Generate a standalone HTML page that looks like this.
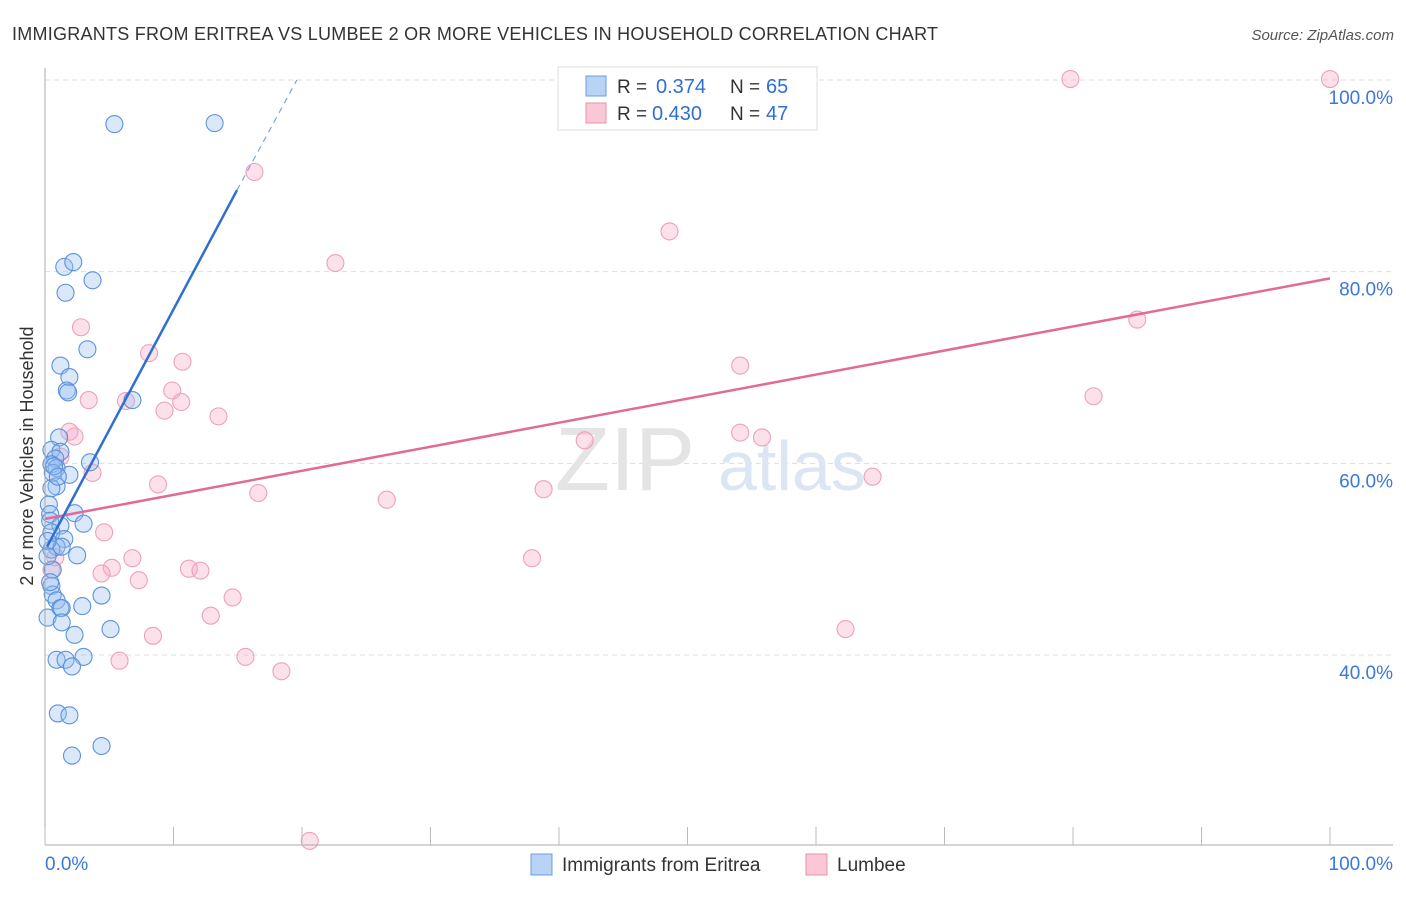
<!DOCTYPE html>
<html><head><meta charset="utf-8"><style>
body{margin:0;background:#fff;font-family:"Liberation Sans",sans-serif}
svg text{font-family:"Liberation Sans",sans-serif}
</style></head><body>
<svg id="chart" width="1406" height="892" viewBox="0 0 1406 892" xmlns="http://www.w3.org/2000/svg">
<text x="12" y="40" font-size="18" fill="#333" textLength="926">IMMIGRANTS FROM ERITREA VS LUMBEE 2 OR MORE VEHICLES IN HOUSEHOLD CORRELATION CHART</text>
<text x="1394" y="40" font-size="15" fill="#555" font-style="italic" text-anchor="end">Source: ZipAtlas.com</text>
<g id="grid"></g>
<text x="555" y="490" font-size="90" fill="#e4e4e4" font-family="Liberation Serif">ZIP</text>
<text x="718" y="490" font-size="70" fill="#dce6f3">atlas</text>
<g id="points"></g>
<g id="lines"></g>
<g id="axes"></g>
<text x="33" y="456" font-size="18" fill="#333" text-anchor="middle" transform="rotate(-90 33 456)">2 or more Vehicles in Household</text>
<g>
<rect x="558" y="67" width="259" height="63" fill="#fff" stroke="#ddd"/>
<rect x="586" y="76" width="20" height="20" fill="#b8d3f5" stroke="#6a9ee0"/>
<rect x="586" y="103" width="20" height="20" fill="#f9c7d6" stroke="#eb92ae"/>
<text x="617" y="93" font-size="19" fill="#333">R =</text>
<text x="656" y="93" font-size="20" fill="#2f6fd0">0.374</text>
<text x="730" y="93" font-size="19" fill="#333">N =</text>
<text x="766" y="93" font-size="20" fill="#2f6fd0">65</text>
<text x="617" y="120" font-size="19" fill="#333">R =</text>
<text x="652" y="120" font-size="20" fill="#2f6fd0">0.430</text>
<text x="730" y="120" font-size="19" fill="#333">N =</text>
<text x="766" y="120" font-size="20" fill="#2f6fd0">47</text>
</g>
<g>
<rect x="531" y="854" width="21" height="21" fill="#b8d3f5" stroke="#6a9ee0"/>
<text x="562" y="871" font-size="19" fill="#333">Immigrants from Eritrea</text>
<rect x="806" y="854" width="21" height="21" fill="#f9c7d6" stroke="#eb92ae"/>
<text x="837" y="871" font-size="19" fill="#333">Lumbee</text>
</g>
</svg>
<script>
const yTicks=[40,60,80,100];
const yTickLabels=["40.0%","60.0%","80.0%","100.0%"];
const xTickLabels=["0.0%","100.0%"];
const blueX=[5.4,13.2,1.5,2.2,3.7,1.6,3.3,1.2,1.9,1.7,1.8,6.8,1.1,0.5,1.2,0.8,3.5,0.5,0.9,1.9,0.6,0.9,0.5,0.3,0.4,2.3,3.0,0.4,1.2,0.5,1.5,0.9,0.5,1.3,2.5,0.6,0.5,0.6,0.9,1.2,1.3,2.9,4.4,0.2,1.3,2.3,5.1,0.9,1.6,3.0,2.1,1.0,1.9,2.1,4.4,0.2,0.2,0.4,0.7,1.0];
const blueY=[95.4,95.5,80.5,81.0,79.1,77.8,71.9,70.2,69.0,67.6,67.4,66.6,62.7,61.4,61.2,60.5,60.1,59.9,59.5,58.8,59.0,57.6,57.4,55.7,54.7,54.8,53.7,54.0,53.5,52.8,52.1,51.3,51.0,51.3,50.4,48.9,47.2,46.3,45.7,44.9,44.9,45.1,46.2,43.9,43.4,42.1,42.7,39.5,39.5,39.8,38.8,33.9,33.7,29.5,30.5,51.9,50.3,47.6,59.7,58.6];
const pinkX=[79.8,100,16.3,48.6,22.6,2.8,85.0,8.1,10.7,54.1,9.9,3.4,6.3,10.6,9.3,13.5,81.6,1.9,2.3,54.1,55.8,42.0,1.2,3.7,64.4,8.8,16.6,26.6,38.8,4.6,6.8,37.9,5.2,4.4,7.3,11.2,12.1,14.6,12.9,8.4,62.3,15.6,5.8,18.4,20.6,0.8,0.5];
const pinkY=[100.1,100.1,90.4,84.2,80.9,74.2,75.0,71.5,70.6,70.2,67.6,66.6,66.5,66.4,65.5,64.9,67.0,63.3,62.8,63.2,62.7,62.4,60.7,59.0,58.6,57.8,56.9,56.2,57.3,52.8,50.1,50.1,49.1,48.5,47.8,49.0,48.8,46.0,44.1,42.0,42.7,39.8,39.4,38.3,20.6,50.2,48.9];
const blueLine=[[0.16,51.3],[14.94,88.5]], blueDash=[[14.94,88.5],[19.6,100]];
const pinkLine=[[0,54.2],[100,79.3]];
const NS="http://www.w3.org/2000/svg";
const X=v=>45+v*12.85, Y=v=>80+(100-v)*9.583;
function mk(t,a,p){const e=document.createElementNS(NS,t);for(const k in a)e.setAttribute(k,a[k]);p.appendChild(e);return e;}
const grid=document.getElementById('grid'),axes=document.getElementById('axes');
yTicks.forEach((t,i)=>{
 const l=mk('line',{x1:45,x2:1393,y1:Y(t),y2:Y(t),stroke:'#ddd','stroke-dasharray':'5,4'},grid);
 
 const tx=mk('text',{x:1393,y:Y(t)+24,'font-size':19,fill:'#3b78d8','text-anchor':'end'},axes);
 tx.textContent=yTickLabels[i];
 
});
const ax=mk('line',{x1:45,x2:45,y1:68,y2:845,stroke:'#aaa'},axes);

const bx=mk('line',{x1:45,x2:1393,y1:845,y2:845,stroke:'#aaa'},axes);

for(let i=0;i<=10;i++){const tk=mk('line',{x1:X(i*10),x2:X(i*10),y1:827,y2:845,stroke:'#bbb'},axes);
 }
[[0,'start',45],[1,'end',1393]].forEach(([i,anc,x])=>{const t=mk('text',{x:x,y:870,'font-size':19,fill:'#3b78d8','text-anchor':anc},axes);t.textContent=xTickLabels[i];
 });
const pts=document.getElementById('points');
pinkX.forEach((v,i)=>{const c=mk('circle',{cx:X(v),cy:Y(pinkY[i]),r:8.5,fill:'rgba(247,170,196,0.35)',stroke:'#eea0ba','stroke-width':1.1},pts);
 });
blueX.forEach((v,i)=>{const c=mk('circle',{cx:X(v),cy:Y(blueY[i]),r:8.5,fill:'rgba(150,190,240,0.35)',stroke:'#5b93dc','stroke-width':1.1},pts);
 });
const ln=document.getElementById('lines');
let a=mk('line',{x1:X(pinkLine[0][0]),y1:Y(pinkLine[0][1]),x2:X(pinkLine[1][0]),y2:Y(pinkLine[1][1]),stroke:'#e26a95','stroke-width':2.5},ln);

a=mk('line',{x1:X(blueLine[0][0]),y1:Y(blueLine[0][1]),x2:X(blueLine[1][0]),y2:Y(blueLine[1][1]),stroke:'#2f6fd0','stroke-width':2.5},ln);

a=mk('line',{x1:X(blueDash[0][0]),y1:Y(blueDash[0][1]),x2:X(blueDash[1][0]),y2:Y(blueDash[1][1]),stroke:'#7aa5e3','stroke-width':1.2,'stroke-dasharray':'6,5'},ln);

</script>
</body></html>
